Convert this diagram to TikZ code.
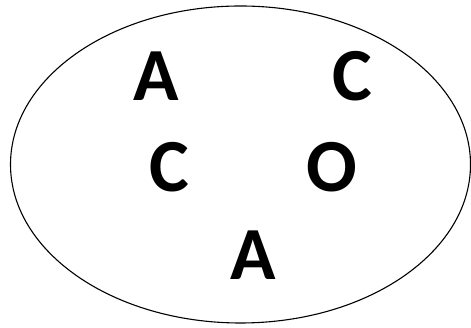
\documentclass[tikz,border=0pt]{standalone}
\usepackage{fontspec}
\setmainfont{Carlito}
\usepackage{tikz}
\usetikzlibrary{positioning}

\begin{document}
\begin{tikzpicture}[x=1pt,y=1pt,
    letter/.style={anchor=base,inner sep=0pt,font=\fontsize{75}{80}\selectfont\bfseries}]
  \useasboundingbox (0,0) rectangle (471,328);
  % the set
  \draw[line width=1.1pt] (240.5,163.5) ellipse [x radius=230,y radius=158.5];
  % its elements
  \node[letter] (a1) at (156.5,227) {A};
  \node[letter] (c1) at (352.5,227) {C};
  \node[letter] (c2) at (169,136) {C};
  \node[letter] (o)  at (332,136) {O};
  \node[letter] (a2) at (253.5,48) {A};
\end{tikzpicture}
\end{document}
